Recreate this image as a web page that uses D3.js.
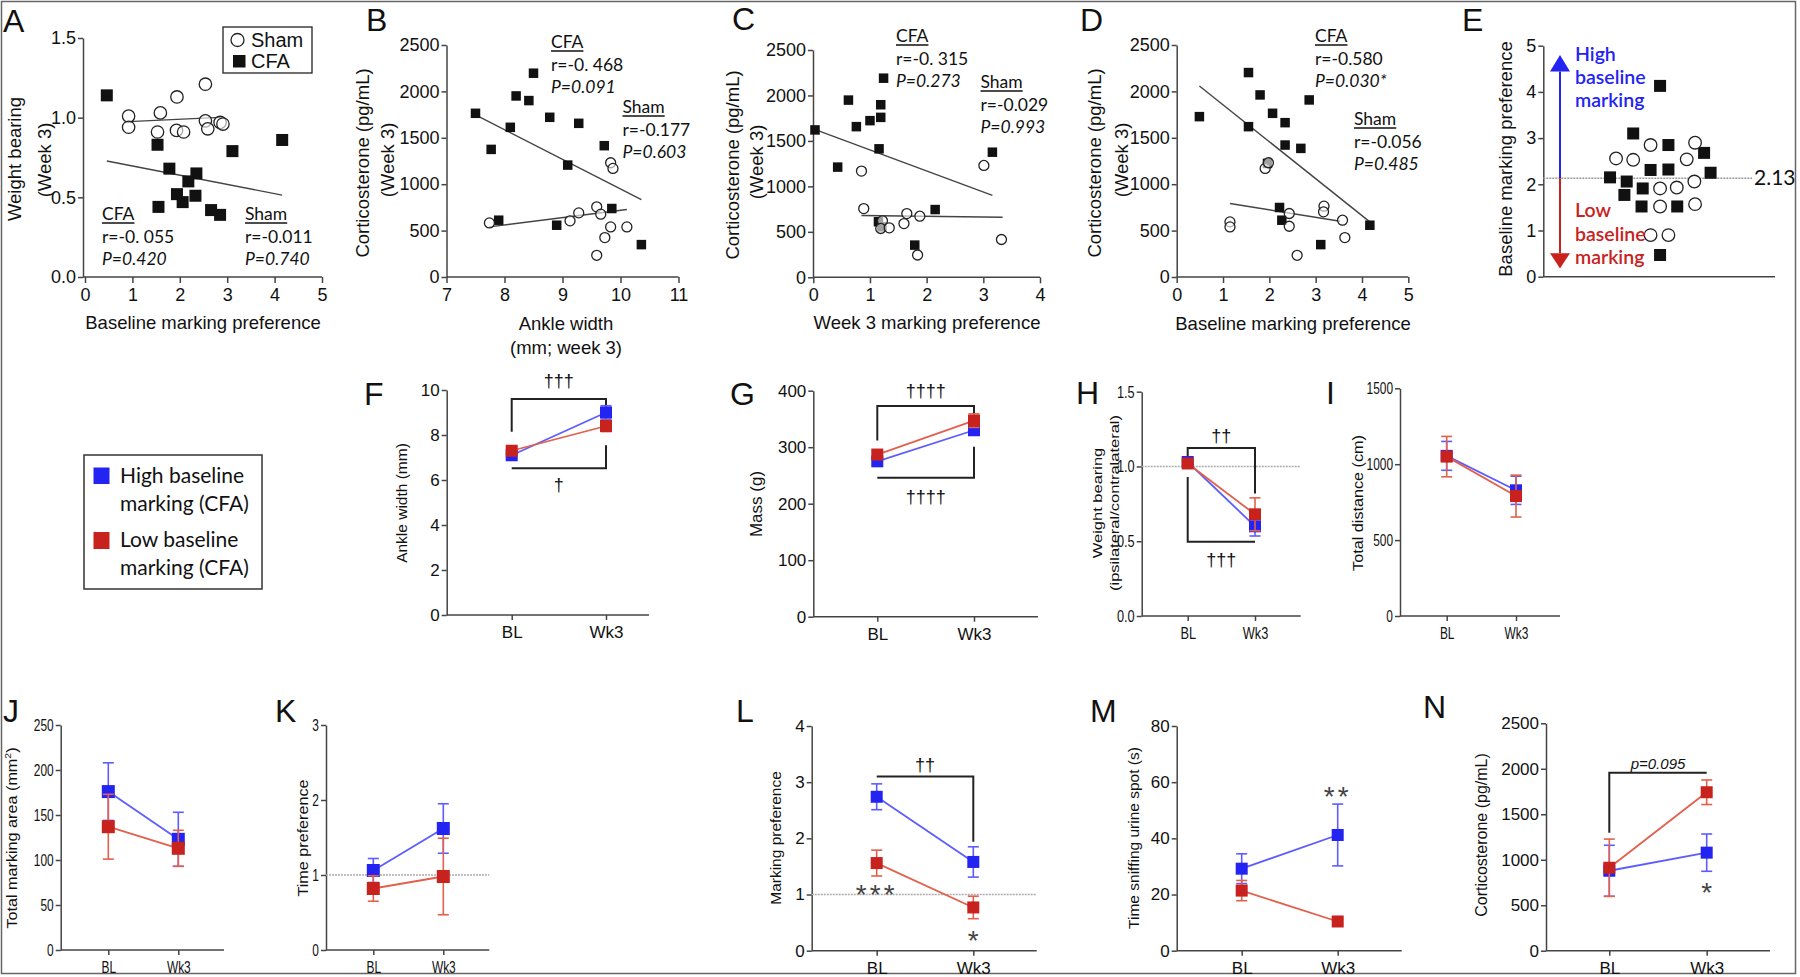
<!DOCTYPE html>
<html><head><meta charset="utf-8">
<script src="https://cdn.jsdelivr.net/npm/d3@7"></script>
<style>body{margin:0;background:#fff}</style>
</head><body>
<script>
// ---------------- DATA ----------------
// Panel A: weight bearing vs baseline marking preference
const shamA = [[0.92,1.01],[0.92,0.94],[1.59,1.03],[1.53,0.91],[1.94,1.13],[1.93,0.92],[2.08,0.91],[2.54,1.21],[2.54,0.98],[2.59,0.93],[2.85,0.97],[2.91,0.96]];
const cfaA = [[0.46,1.14],[1.53,0.83],[1.78,0.68],[2.18,0.60],[2.35,0.65],[1.94,0.52],[2.06,0.47],[2.33,0.51],[1.55,0.44],[2.66,0.42],[2.85,0.39],[3.11,0.79],[4.16,0.86]];
const fitShamA = [[0.92,0.975],[2.85,1.002]];
const fitCfaA = [[0.46,0.728],[4.16,0.514]];
// Panel B: corticosterone vs ankle width
const shamB = [[7.74,583],[9.13,605],[9.28,691],[9.59,756],[9.66,677],[9.83,1231],[9.87,1170],[9.83,540],[9.73,425],[10.11,540],[9.59,234]];
const cfaB = [[7.50,1764],[7.77,1375],[7.90,612],[8.10,1613],[8.20,1951],[8.42,1901],[8.50,2196],[8.78,1721],[8.90,558],[9.09,1206],[9.28,1656],[9.72,1415],[9.85,738],[10.36,349]];
const fitCfaB = [[7.50,1746],[10.36,835]];
const fitShamB = [[7.74,540],[10.11,727]];
// Panel C: corticosterone vs week 3 marking preference
const shamC = [[0.85,1168],[0.89,756],[1.22,621],[1.19,537],[1.34,544],[1.60,591],[1.65,701],[1.88,672],[1.84,245],[3.01,1230],[3.32,416]];
const cfaC = [[0.03,1621],[0.43,1212],[0.62,1949],[0.76,1657],[1.00,1723],[1.19,1898],[1.19,1759],[1.16,1413],[1.24,2190],[1.15,611],[1.21,555],[1.79,354],[2.15,745],[3.16,1376]];
const fitCfaC = [[0,1632],[3.16,901]];
const fitShamC = [[0.85,680],[3.34,660]];
// Panel D: corticosterone vs baseline marking preference
const shamD = [[1.91,1170],[1.98,1231],[1.15,594],[1.15,540],[2.43,684],[2.43,547],[2.60,234],[3.18,763],[3.17,702],[3.58,612],[3.63,425]];
const cfaD = [[0.49,1728],[1.55,2203],[1.55,1620],[1.80,1962],[2.07,1764],[2.34,1663],[2.34,1422],[1.96,1224],[2.86,1908],[2.68,1386],[2.22,749],[2.27,612],[3.11,349],[4.17,558]];
const fitCfaD = [[0.49,2059],[4.17,594]];
const fitShamD = [[1.15,792],[3.53,601]];
// Panel E: baseline marking preference (jittered positions)
const cfaE = [[5.04,4.13],[3.88,3.10],[5.40,2.85],[6.94,2.68],[4.63,2.31],[5.40,2.32],[7.22,2.25],[2.88,2.15],[3.60,2.06],[4.29,1.91],[3.50,1.77],[4.24,1.52],[5.78,1.52],[5.04,0.47]];
const shamE = [[3.14,2.56],[3.88,2.53],[4.63,2.85],[6.55,2.90],[6.19,2.54],[5.04,1.91],[5.76,1.93],[6.52,2.06],[5.04,1.52],[6.55,1.57],[4.63,0.90],[5.40,0.90]];
const medianE = 2.13;

// Panels F-N: mean and SEM at BL / Wk3
const timepoints = ["BL","Wk3"];
const ankleHigh = [7.1, 9.0],   ankleHighErr = [0.15, 0.3];
const ankleLow  = [7.3, 8.4],   ankleLowErr  = [0.15, 0.25];
const massHigh  = [275, 330],   massHighErr  = [5, 8];
const massLow   = [287, 347],   massLowErr   = [6, 12];
const wbHigh    = [1.03, 0.60], wbHighErr    = [0.03, 0.065];
const wbLow     = [1.02, 0.68], wbLowErr     = [0.03, 0.11];
const distHigh  = [1055, 828],  distHighErr  = [95, 93];
const distLow   = [1050, 790],  distLowErr   = [133, 138];
const areaHigh  = [176, 123],   areaHighErr  = [32, 30];
const areaLow   = [137, 113],   areaLowErr   = [36, 20];
const timeHigh  = [1.06, 1.62], timeHighErr  = [0.16, 0.33];
const timeLow   = [0.82, 0.98], timeLowErr   = [0.17, 0.51];
const markHigh  = [2.74, 1.58], markHighErr  = [0.23, 0.27];
const markLow   = [1.56, 0.77], markLowErr   = [0.23, 0.20];
const sniffHigh = [29.2, 41.2], sniffHighErr = [5.3, 11];
const sniffLow  = [21.4, 10.4], sniffLowErr  = [3.6, 0.8];
const cortHigh  = [879, 1078],  cortHighErr  = [280, 205];
const cortLow   = [912, 1742],  cortLowErr   = [315, 135];

// significance brackets [timepoint, value]
const bracketF1 = [["BL",8.15],["BL",9.6],["Wk3",9.6],["Wk3",9.2]];
const bracketF2 = [["BL",6.52],["Wk3",6.52],["Wk3",7.55]];
const bracketG1 = [["BL",312],["BL",373],["Wk3",373],["Wk3",359]];
const bracketG2 = [["BL",246],["Wk3",246],["Wk3",301]];
const bracketH1 = [["BL",1.04],["BL",1.124],["Wk3",1.124],["Wk3",0.82]];
const bracketH2 = [["BL",0.93],["BL",0.496],["Wk3",0.496]];
const bracketL  = [["BL",3.10],["Wk3",3.10],["Wk3",1.94]];
const bracketN  = [["BL",1297],["BL",1956],["Wk3",1956]];

// ---------------- DRAWING ----------------
const AX = "'Liberation Sans', Arial, Helvetica, sans-serif";
const CAL = "Lato, 'Open Sans', sans-serif";
const BLUE = "#2424f2", BLUE_L = "#5d5dff", RED = "#c8221e", RED_L = "#e2604c";

const svg = d3.select("body").append("svg").attr("width",1800).attr("height",977).style("display","block");
svg.append("rect").attr("width",1800).attr("height",977).attr("fill","#fff");
svg.append("rect").attr("x",1.5).attr("y",1.5).attr("width",1794).attr("height",972)
  .attr("fill","none").attr("stroke","#666").attr("stroke-width",1.5);

function squash(sel,f){
  sel.each(function(){
    const w = this.getComputedTextLength();
    d3.select(this).attr("textLength",w*f).attr("lengthAdjust","spacingAndGlyphs");
  });
}
function styleAxis(g, fs, font, sq){
  g.selectAll("path,line").attr("stroke","#444").attr("stroke-width",1.5);
  const t = g.selectAll("text").attr("font-size",fs).attr("font-family",font).attr("fill","#111");
  if(sq) squash(t,sq);
}
function panelLabel(t,x,y){
  svg.append("text").attr("x",x).attr("y",y).attr("font-family",AX).attr("font-size",32).attr("fill","#111").text(t);
}
function rotText(t,x,y,fs,font,sq){
  return svg.append("text").attr("transform",`translate(${x},${y}) rotate(-90)` + (sq?` scale(1,${sq})`:""))
    .attr("text-anchor","middle").attr("dominant-baseline","central")
    .attr("font-size",fs).attr("font-family",font).attr("fill","#111").text(t);
}
function hText(t,x,y,fs,font,anchor){
  return svg.append("text").attr("x",x).attr("y",y).attr("text-anchor",anchor||"middle")
    .attr("font-size",fs).attr("font-family",font).attr("fill","#111").text(t);
}
function annot(x, y0, title, r, p){
  const t = hText(title,x,y0,17.5,CAL,"start");
  const w = t.node().getComputedTextLength();
  svg.append("line").attr("x1",x).attr("x2",x+w).attr("y1",y0+3).attr("y2",y0+3).attr("stroke","#111").attr("stroke-width",1.3);
  hText(r,x,y0+23,17.5,CAL,"start");
  hText(p,x,y0+45,17.5,CAL,"start").attr("font-style","italic");
}

function scatter(c){
  const x = d3.scaleLinear().domain(c.xd).range(c.xr);
  const y = d3.scaleLinear().domain(c.yd).range(c.yr);
  const g = svg.append("g");
  const ya = g.append("g").attr("transform",`translate(${c.ax},0)`)
    .call(d3.axisLeft(y).tickValues(c.yt).tickFormat(c.yf).tickSize(5).tickSizeOuter(0).tickPadding(2));
  styleAxis(ya,18,AX);
  const xa = g.append("g").attr("transform",`translate(0,${c.yr[0]})`)
    .call(d3.axisBottom(x).tickValues(c.xt).tickFormat(d3.format("d")).tickSize(6).tickSizeOuter(0).tickPadding(5));
  xa.select(".domain").remove();
  xa.append("line").attr("x1",c.ax).attr("x2",c.xEnd).attr("y1",0).attr("y2",0);
  styleAxis(xa,18,AX);
  const line = d3.line().x(d=>x(d[0])).y(d=>y(d[1]));
  (c.fits||[]).forEach(f=>g.append("path").attr("d",line(f)).attr("fill","none").attr("stroke","#444").attr("stroke-width",1.4));
  const s = c.s;
  g.selectAll(null).data(c.cfa).join("rect").attr("x",d=>x(d[0])-s/2).attr("y",d=>y(d[1])-s/2)
    .attr("width",s).attr("height",s).attr("fill","#111");
  g.selectAll(null).data(c.sham).join("circle").attr("cx",d=>x(d[0])).attr("cy",d=>y(d[1]))
    .attr("r",c.r).attr("fill","#fff").attr("fill-opacity",0.6).attr("stroke","#222").attr("stroke-width",1.3);
  return {x,y};
}

// Panel A
scatter({xd:[0,5],xr:[85,322],yd:[0,1.5],yr:[277,38],ax:83,xEnd:322,xt:[0,1,2,3,4,5],yt:[0,0.5,1,1.5],
  yf:d3.format(".1f"),sham:shamA,cfa:cfaA,fits:[fitShamA,fitCfaA],s:12,r:6.2});
panelLabel("A",3,32);
rotText("Weight bearing",14,159,18.5,AX); rotText("(Week 3)",44,160,18.5,AX);
hText("Baseline marking preference",203,329,18.5,AX);
annot(102,220,"CFA","r=-0. 055","P=0.420");
annot(245,220,"Sham","r=-0.011","P=0.740");
svg.append("rect").attr("x",223).attr("y",27).attr("width",89).attr("height",46).attr("fill","#fff").attr("stroke","#222").attr("stroke-width",1.3);
svg.append("circle").attr("cx",237.5).attr("cy",40).attr("r",6.5).attr("fill","#fff").attr("stroke","#222").attr("stroke-width",1.3);
svg.append("rect").attr("x",233).attr("y",55).attr("width",12.5).attr("height",12.5).attr("fill","#111");
hText("Sham",251,47,20,AX,"start"); hText("CFA",251,68,20,AX,"start");

// Panel B
scatter({xd:[7,11],xr:[446.5,678.5],yd:[0,2500],yr:[277,45],ax:446.5,xEnd:678.5,xt:[7,8,9,10,11],yt:[0,500,1000,1500,2000,2500],
  yf:d3.format("d"),sham:shamB,cfa:cfaB,fits:[fitCfaB,fitShamB],s:9.5,r:5});
panelLabel("B",366,31);
rotText("Corticosterone (pg/mL)",362,163,18.5,AX); rotText("(Week 3)",387,160,18.5,AX);
hText("Ankle width",566,330,18.5,AX); hText("(mm; week 3)",566,354,18.5,AX);
annot(551,48,"CFA","r=-0. 468","P=0.091");
annot(622.5,113,"Sham","r=-0.177","P=0.603");

// Panel C
scatter({xd:[0,4],xr:[813.3,1040],yd:[0,2500],yr:[277.3,50],ax:813,xEnd:1040,xt:[0,1,2,3,4],yt:[0,500,1000,1500,2000,2500],
  yf:d3.format("d"),sham:shamC,cfa:cfaC,fits:[fitCfaC,fitShamC],s:9.5,r:5});
panelLabel("C",732,30);
rotText("Corticosterone (pg/mL)",732,165,18.5,AX); rotText("(Week 3)",756,162,18.5,AX);
hText("Week 3 marking preference",927,329,18.5,AX);
annot(896,42,"CFA","r=-0. 315","P=0.273");
annot(980.5,88,"Sham","r=-0.029","P=0.993");

// Panel D
scatter({xd:[0,5],xr:[1176.7,1408.3],yd:[0,2500],yr:[277,45],ax:1176.7,xEnd:1408.3,xt:[0,1,2,3,4,5],yt:[0,500,1000,1500,2000,2500],
  yf:d3.format("d"),sham:shamD,cfa:cfaD,fits:[fitCfaD,fitShamD],s:9.5,r:5});
panelLabel("D",1080,31);
rotText("Corticosterone (pg/mL)",1094,163,18.5,AX); rotText("(Week 3)",1121,160,18.5,AX);
hText("Baseline marking preference",1293,330,18.5,AX);
annot(1315,42,"CFA","r=-0.580","P=0.030*");
annot(1354,125,"Sham","r=-0.056","P=0.485");

// Panel E
{
  const x = d3.scaleLinear().domain([0,10]).range([1543.3,1775]);
  const y = d3.scaleLinear().domain([0,5]).range([276.7,45.7]);
  const g = svg.append("g");
  const ya = g.append("g").attr("transform","translate(1543.3,0)")
    .call(d3.axisLeft(y).tickValues([0,1,2,3,4,5]).tickFormat(d3.format("d")).tickSize(5).tickSizeOuter(0).tickPadding(2));
  styleAxis(ya,18,AX);
  g.append("line").attr("x1",1543.3).attr("x2",1775).attr("y1",y(0)).attr("y2",y(0)).attr("stroke","#444").attr("stroke-width",1.5);
  g.append("line").attr("x1",1543.3).attr("x2",1752).attr("y1",y(medianE)).attr("y2",y(medianE))
    .attr("stroke","#999").attr("stroke-width",1.6).attr("stroke-dasharray","2,1");
  hText("2.13",1754,y(medianE)+7,21,CAL,"start");
  const ax = 1560;
  g.append("line").attr("x1",ax).attr("x2",ax).attr("y1",y(medianE)).attr("y2",y(4.44)).attr("stroke",BLUE).attr("stroke-width",2);
  g.append("path").attr("d",`M${ax-10},${y(4.44)} L${ax+10},${y(4.44)} L${ax},${y(4.80)} Z`).attr("fill",BLUE);
  g.append("line").attr("x1",ax).attr("x2",ax).attr("y1",y(medianE)).attr("y2",y(0.51)).attr("stroke",RED).attr("stroke-width",2);
  g.append("path").attr("d",`M${ax-10},${y(0.51)} L${ax+10},${y(0.51)} L${ax},${y(0.18)} Z`).attr("fill",RED);
  [["High",61],["baseline",84],["marking",107]].forEach(([t,yy])=>hText(t,1575,yy,19.5,CAL,"start").attr("fill",BLUE).attr("font-weight",600));
  [["Low",217],["baseline",241],["marking",264]].forEach(([t,yy])=>hText(t,1575,yy,19.5,CAL,"start").attr("fill",RED).attr("font-weight",600));
  g.selectAll(null).data(cfaE).join("rect").attr("x",d=>x(d[0])-6).attr("y",d=>y(d[1])-6).attr("width",12).attr("height",12).attr("fill","#111");
  g.selectAll(null).data(shamE).join("circle").attr("cx",d=>x(d[0])).attr("cy",d=>y(d[1])).attr("r",6.3)
    .attr("fill","#fff").attr("stroke","#222").attr("stroke-width",1.3);
}
panelLabel("E",1462,31);
rotText("Baseline marking preference",1505,159,18.5,AX);

// Legend for F-N
svg.append("rect").attr("x",84).attr("y",455).attr("width",178).attr("height",134).attr("fill","#fff").attr("stroke","#333").attr("stroke-width",1.5);
svg.append("rect").attr("x",93.5).attr("y",467.5).attr("width",16).attr("height",16.5).attr("fill",BLUE);
svg.append("rect").attr("x",93.5).attr("y",532).attr("width",16).attr("height",17).attr("fill",RED);
hText("High baseline",120,483,21,CAL,"start"); hText("marking (CFA)",120,511,21,CAL,"start");
hText("Low baseline",120,547,21,CAL,"start"); hText("marking (CFA)",120,575,21,CAL,"start");

function linePanel(c){
  const x = d3.scalePoint().domain(timepoints).range([c.bl,c.wk]);
  const y = d3.scaleLinear().domain(c.yd).range(c.yr);
  const g = svg.append("g");
  const fs = c.fs||17;
  const ya = g.append("g").attr("transform",`translate(${c.ax},0)`)
    .call(d3.axisLeft(y).tickValues(c.yt).tickFormat(c.yf||d3.format("d")).tickSize(5).tickSizeOuter(0).tickPadding(2));
  styleAxis(ya,fs,AX,c.sq);
  const xa = g.append("g").attr("transform",`translate(0,${c.yr[0]})`)
    .call(d3.axisBottom(x).tickSize(5).tickSizeOuter(0).tickPadding(6));
  xa.select(".domain").remove();
  xa.append("line").attr("x1",c.ax).attr("x2",c.end).attr("y1",0).attr("y2",0);
  styleAxis(xa,fs,AX,c.sq);
  if(c.ref){
    g.append("line").attr("x1",c.ax).attr("x2",c.end).attr("y1",y(1)).attr("y2",y(1))
      .attr("stroke","#aaa").attr("stroke-width",1.6).attr("stroke-dasharray","2,1");
  }
  const bl = d3.line().x(d=>x(d[0])).y(d=>y(d[1]));
  (c.brackets||[]).forEach(b=>g.append("path").attr("d",bl(b)).attr("fill","none").attr("stroke","#222").attr("stroke-width",2));
  const ms = c.ms||12;
  const series = [{m:c.high,e:c.highErr,col:BLUE,lc:BLUE_L},{m:c.low,e:c.lowErr,col:RED,lc:RED_L}];
  series.forEach(s=>{
    const pts = timepoints.map((t,i)=>({t,m:s.m[i],e:s.e[i]}));
    g.append("path").attr("d",d3.line().x(d=>x(d.t)).y(d=>y(d.m))(pts)).attr("fill","none").attr("stroke",s.lc).attr("stroke-width",1.8);
    pts.forEach(d=>{
      const xx = x(d.t);
      g.append("line").attr("x1",xx).attr("x2",xx).attr("y1",y(d.m-d.e)).attr("y2",y(d.m+d.e)).attr("stroke",s.lc).attr("stroke-width",1.6);
      [d.m-d.e,d.m+d.e].forEach(v=>g.append("line").attr("x1",xx-5.5).attr("x2",xx+5.5).attr("y1",y(v)).attr("y2",y(v)).attr("stroke",s.lc).attr("stroke-width",1.6));
    });
    g.selectAll(null).data(pts).join("rect").attr("x",d=>x(d.t)-ms/2).attr("y",d=>y(d.m)-ms/2)
      .attr("width",ms).attr("height",ms).attr("fill",s.col);
  });
  (c.marks||[]).forEach(m=>{
    const xx = m.t==="mid" ? (c.bl+c.wk)/2 : x(m.t);
    const t = g.append("text").attr("x",xx).attr("y",y(m.v)+(m.dy||0)).attr("text-anchor","middle")
      .attr("font-size",m.fs).attr("font-family",m.font||AX).attr("fill",m.col||"#222").text(m.s);
    if(m.it) t.attr("font-style","italic");
    if(m.ls) t.attr("letter-spacing",m.ls);
  });
  return {x,y};
}

// F
linePanel({ax:446.7,yd:[0,10],yr:[615,390],yt:[0,2,4,6,8,10],bl:511.7,wk:606,end:649,
  high:ankleHigh,highErr:ankleHighErr,low:ankleLow,lowErr:ankleLowErr,brackets:[bracketF1,bracketF2],
  marks:[{t:"mid",v:10.4,s:"†††",fs:18,dy:6,col:"#111"},{t:"mid",v:5.78,s:"†",fs:18,dy:6,col:"#111"}]});
panelLabel("F",364,405);
rotText("Ankle width (mm)",401.5,503,15.5,AX);

// G
linePanel({ax:813.3,yd:[0,400],yr:[616.7,390.7],yt:[0,100,200,300,400],bl:877.3,wk:974,end:1038,
  high:massHigh,highErr:massHighErr,low:massLow,lowErr:massLowErr,brackets:[bracketG1,bracketG2],
  marks:[{t:"mid",v:400,s:"††††",fs:18,dy:6,col:"#111"},{t:"mid",v:212,s:"††††",fs:18,dy:6,col:"#111"}]});
panelLabel("G",730,405);
rotText("Mass (g)",756.7,504,17,AX);

// H
linePanel({ax:1141.7,yd:[0,1.5],yr:[616,391.7],yt:[0,0.5,1,1.5],yf:d3.format(".1f"),bl:1187.7,wk:1255,end:1300.7,
  sq:0.75,ref:true,high:wbHigh,highErr:wbHighErr,low:wbLow,lowErr:wbLowErr,brackets:[bracketH1,bracketH2],
  marks:[{t:"mid",v:1.207,s:"††",fs:18,dy:6,col:"#111"},{t:"mid",v:0.373,s:"†††",fs:18,dy:6,col:"#111"}]});
panelLabel("H",1076,404);
rotText("Weight bearing",1098,503,16.5,AX,0.76); rotText("(ipsilateral/contralateral)",1115,503,16.5,AX,0.76);

// I
linePanel({ax:1400,yd:[0,1500],yr:[616,388.3],yt:[0,500,1000,1500],bl:1446.7,wk:1516,end:1560,
  sq:0.7,high:distHigh,highErr:distHighErr,low:distLow,lowErr:distLowErr});
panelLabel("I",1326,404);
rotText("Total distance (cm)",1358.3,503,16.2,AX,0.85);

// J
linePanel({ax:60.7,yd:[0,250],yr:[950,725],yt:[0,50,100,150,200,250],bl:108.3,wk:178.3,end:224,
  sq:0.7,ms:13,high:areaHigh,highErr:areaHighErr,low:areaLow,lowErr:areaLowErr});
panelLabel("J",3,722);
{
  const t = svg.append("text").attr("transform","translate(12,838) rotate(-90) scale(1,0.85)").attr("text-anchor","middle")
    .attr("dominant-baseline","central").attr("font-size",16.2).attr("font-family",AX).attr("fill","#111");
  t.append("tspan").text("Total marking area (mm");
  t.append("tspan").attr("font-size",10.5).attr("dy",-6).text("2");
  t.append("tspan").attr("dy",6).text(")");
}

// K
linePanel({ax:326,yd:[0,3],yr:[950,725],yt:[0,1,2,3],bl:373.3,wk:443.3,end:489.3,
  sq:0.7,ms:13,ref:true,high:timeHigh,highErr:timeHighErr,low:timeLow,lowErr:timeLowErr});
panelLabel("K",275,722);
rotText("Time preference",303.3,838,16.2,AX,0.85);

// L
linePanel({ax:811.7,yd:[0,4],yr:[950.7,726],yt:[0,1,2,3,4],bl:876.7,wk:973.3,end:1036.7,
  ref:true,high:markHigh,highErr:markHighErr,low:markLow,lowErr:markLowErr,brackets:[bracketL],
  marks:[{t:"mid",v:3.31,s:"††",fs:18,dy:6,col:"#111"},{t:"BL",v:1.08,s:"***",fs:28,dy:14,ls:3,col:"#444"},{t:"Wk3",v:0.26,s:"*",fs:28,dy:14,col:"#444"}]});
panelLabel("L",736,722);
rotText("Marking preference",775,838,15.5,AX);

// M
linePanel({ax:1176.7,yd:[0,80],yr:[950.7,726],yt:[0,20,40,60,80],bl:1241.7,wk:1337.7,end:1401.7,
  high:sniffHigh,highErr:sniffHighErr,low:sniffLow,lowErr:sniffLowErr,
  marks:[{t:"Wk3",v:56.6,s:"**",fs:28,dy:14,ls:3,col:"#444"}]});
panelLabel("M",1090,722);
rotText("Time sniffing urine spot (s)",1133.3,838,15.5,AX);

// N
linePanel({ax:1546,yd:[0,2500],yr:[950.7,723.3],yt:[0,500,1000,1500,2000,2500],bl:1609.3,wk:1706.7,end:1770,
  high:cortHigh,highErr:cortHighErr,low:cortLow,lowErr:cortLowErr,brackets:[bracketN],
  marks:[{t:"mid",v:2051,s:"p=0.095",fs:15,dy:5,it:true,col:"#111"},{t:"Wk3",v:685,s:"*",fs:28,dy:14,col:"#444"}]});
panelLabel("N",1423,718);
rotText("Corticosterone (pg/mL)",1481.7,835,16,AX);
</script>
</body></html>
